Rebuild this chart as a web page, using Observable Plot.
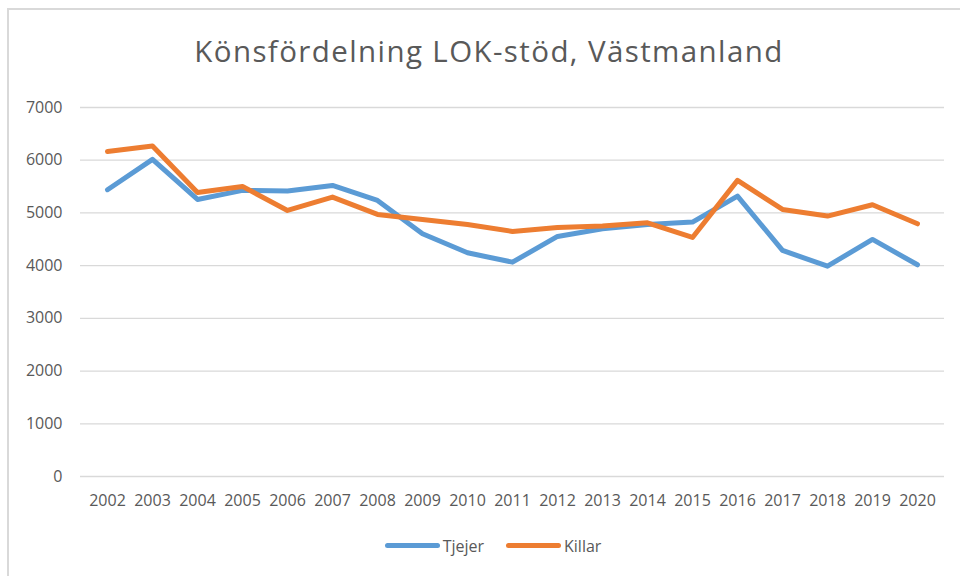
<!DOCTYPE html>
<html>
<head>
<meta charset="utf-8">
<script src="https://cdn.jsdelivr.net/npm/d3@7"></script>
<script src="https://cdn.jsdelivr.net/npm/@observablehq/plot@0.6"></script>
<style>
  html, body { margin: 0; padding: 0; background: #fff; }
  body { width: 960px; height: 576px; overflow: hidden; position: relative; font-family: "Open Sans", sans-serif; color: #595959; }
  #frame { position: absolute; left: 7px; top: 8px; width: 980px; height: 600px; border-left: 2px solid #d9d9d9; border-top: 2px solid #d9d9d9; box-sizing: border-box; pointer-events: none; }
  #title { height: 95px; box-sizing: border-box; padding-top: 36px; padding-left: 18px; text-align: center; font-size: 29.5px; line-height: 29px; letter-spacing: 1.4px; color: #595959; white-space: nowrap; }
  #chart { height: 420px; }
  #chart svg { display: block; }
  #legend { height: 61px; display: flex; justify-content: center; align-items: center; padding-left: 26px; box-sizing: border-box; font-size: 16px; color: #595959; }
  .item { display: flex; align-items: center; margin: 0 11px; }
  .sw { width: 55px; height: 5px; border-radius: 3px; margin-right: 3px; }
</style>
</head>
<body>
<div id="frame"></div>
<div id="title">Könsfördelning LOK-stöd, Västmanland</div>
<div id="chart"></div>
<div id="legend"></div>
<script>
const years = ["2002","2003","2004","2005","2006","2007","2008","2009","2010","2011","2012","2013","2014","2015","2016","2017","2018","2019","2020"];
const tjejer = [5440, 6015, 5256, 5427, 5415, 5522, 5237, 4605, 4245, 4066, 4554, 4700, 4782, 4826, 5319, 4288, 3991, 4497, 4016];
const killar = [6167, 6268, 5389, 5503, 5047, 5300, 4971, 4877, 4782, 4649, 4725, 4750, 4813, 4535, 5617, 5066, 4940, 5155, 4794];
const seriesNames = ["Tjejer", "Killar"];
const seriesColors = ["#5b9bd5", "#ed7d31"];
const yTicks = [0, 1000, 2000, 3000, 4000, 5000, 6000, 7000];

const data = [];
years.forEach((y, i) => {
  data.push({year: y, value: tjejer[i], series: "Tjejer"});
  data.push({year: y, value: killar[i], series: "Killar"});
});

const plot = Plot.plot({
  width: 960,
  height: 420,
  marginTop: 12,
  marginBottom: 39,
  marginLeft: 80,
  marginRight: 16,
  style: { fontFamily: "'Open Sans', sans-serif", fontSize: "16px", color: "#595959", background: "#fff" },
  x: { type: "point", domain: years, padding: 0.5, label: null },
  y: { domain: [0, 7000], label: null },
  color: { domain: seriesNames, range: seriesColors },
  marks: [
    Plot.gridY(yTicks, { stroke: "#d9d9d9", strokeOpacity: 1, strokeWidth: 1.3 }),
    Plot.axisY(yTicks, { tickSize: 0, tickPadding: 18, label: null, fill: "#595959", fontSize: 16, tickFormat: d => String(d) }),
    Plot.axisX({ tickSize: 0, tickPadding: 18, label: null, fill: "#595959", fontSize: 16 }),
    Plot.lineY(data, { x: "year", y: "value", stroke: "series", z: "series", strokeWidth: 5, strokeLinecap: "round", strokeLinejoin: "round" })
  ]
});
document.getElementById("chart").appendChild(plot);

const legend = document.getElementById("legend");
seriesNames.forEach((name, i) => {
  const item = document.createElement("div");
  item.className = "item";
  const sw = document.createElement("div");
  sw.className = "sw";
  sw.style.background = seriesColors[i];
  const t = document.createElement("span");
  t.textContent = name;
  item.appendChild(sw);
  item.appendChild(t);
  legend.appendChild(item);
});
</script>
</body>
</html>
